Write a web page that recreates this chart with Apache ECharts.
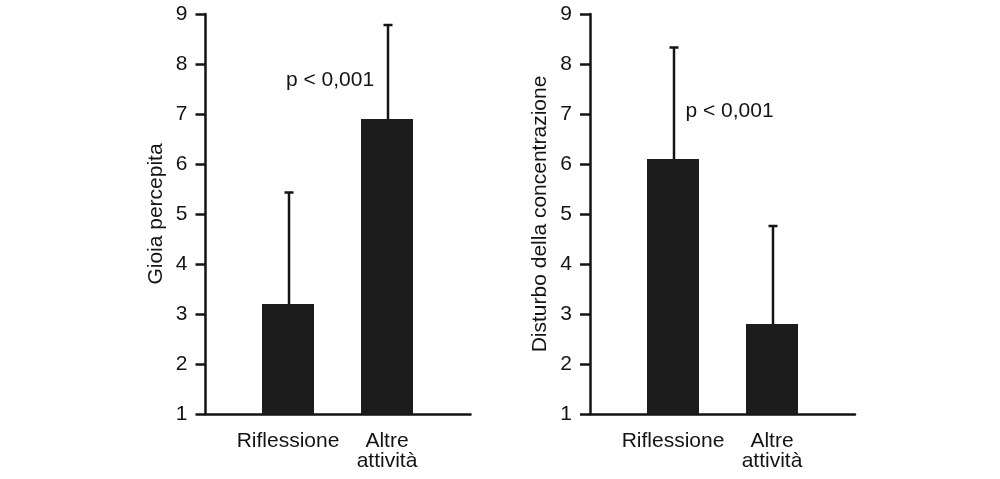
<!DOCTYPE html>
<html>
<head>
<meta charset="utf-8">
<script src="https://cdn.jsdelivr.net/npm/echarts@6/dist/echarts.min.js"></script>
<style>
html,body{margin:0;padding:0;background:#fff;}
#chart{width:1000px;height:479px;}
</style>
</head>
<body>
<div id="chart"></div>
<script>
const categories = ['Riflessione', 'Altre\nattività'];
const yTicks = [1, 2, 3, 4, 5, 6, 7, 8, 9];
const leftName = 'Gioia percepita';
const leftMeans = [3.2, 6.9];
const leftSD = [2.23, 1.88];
const rightName = 'Disturbo della concentrazione';
const rightMeans = [6.1, 2.8];
const rightSD = [2.23, 1.96];
const pText = 'p < 0,001';

const INK = '#141414';
const FONT = 'Liberation Sans, Arial, Helvetica, sans-serif';
const FS = 21;

const chart = echarts.init(document.getElementById('chart'));

function errData(means, sd) {
  return means.map((m, i) => [i, m, m + sd[i]]);
}
function renderErr(params, api) {
  const x = api.value(0);
  const base = api.coord([x, api.value(1)]);
  const top = api.coord([x, api.value(2)]);
  const cx = base[0] + 1;
  const st = { stroke: INK, lineWidth: 2.5 };
  return {
    type: 'group',
    children: [
      { type: 'line', shape: { x1: cx, y1: base[1], x2: cx, y2: top[1] }, style: st },
      { type: 'line', shape: { x1: cx - 4.5, y1: top[1], x2: cx + 4.5, y2: top[1] }, style: st }
    ]
  };
}

function frameAxes(gridIndex, name) {
  return {
    x: {
      type: 'value', gridIndex, min: 0, max: 1,
      axisLine: { show: true, lineStyle: { color: INK, width: 2.5 } },
      axisTick: { show: false }, axisLabel: { show: false }, splitLine: { show: false }
    },
    y: {
      type: 'value', gridIndex, min: yTicks[0], max: yTicks[yTicks.length - 1], interval: 1,
      name, nameLocation: 'middle', nameGap: 39,
      nameTextStyle: { fontSize: FS, color: INK, fontFamily: FONT },
      axisLine: { show: true, lineStyle: { color: INK, width: 2.5 } },
      axisTick: { show: true, length: 10, lineStyle: { color: INK, width: 2.5 } },
      axisLabel: { fontSize: FS, color: INK, fontFamily: FONT, margin: 18 },
      splitLine: { show: false }
    }
  };
}
function barAxes(gridIndex) {
  return {
    x: {
      type: 'category', gridIndex, data: categories,
      axisLine: { show: false }, axisTick: { show: false },
      axisLabel: { fontSize: FS, lineHeight: 20, color: INK, fontFamily: FONT, margin: 17, interval: 0 }
    },
    y: {
      type: 'value', gridIndex, min: yTicks[0], max: yTicks[yTicks.length - 1], show: false
    }
  };
}

const fL = frameAxes(0, leftName), bL = barAxes(1), fR = frameAxes(2, rightName), bR = barAxes(3);

chart.setOption({
  backgroundColor: '#fff',
  animation: false,
  grid: [
    { left: 205.5, top: 14, width: 265, height: 400 },
    { left: 238.5, top: 14, width: 198, height: 400 },
    { left: 590, top: 14, width: 265, height: 400 },
    { left: 623.5, top: 14, width: 198, height: 400 }
  ],
  xAxis: [fL.x, bL.x, fR.x, bR.x],
  yAxis: [fL.y, bL.y, fR.y, bR.y],
  series: [
    { type: 'bar', xAxisIndex: 1, yAxisIndex: 1, data: leftMeans, barWidth: 52,
      itemStyle: { color: '#1c1c1c' }, z: 2 },
    { type: 'custom', xAxisIndex: 1, yAxisIndex: 1, data: errData(leftMeans, leftSD),
      renderItem: renderErr, z: 1 },
    { type: 'bar', xAxisIndex: 3, yAxisIndex: 3, data: rightMeans, barWidth: 52,
      itemStyle: { color: '#1c1c1c' }, z: 2 },
    { type: 'custom', xAxisIndex: 3, yAxisIndex: 3, data: errData(rightMeans, rightSD),
      renderItem: renderErr, z: 1 }
  ],
  graphic: [
    { type: 'text', x: 330, y: 80, style: { text: pText, fontSize: FS, fontFamily: FONT, fill: INK,
      textAlign: 'center', textVerticalAlign: 'middle' } },
    { type: 'text', x: 729.5, y: 111, style: { text: pText, fontSize: FS, fontFamily: FONT, fill: INK,
      textAlign: 'center', textVerticalAlign: 'middle' } }
  ]
});
</script>
</body>
</html>
